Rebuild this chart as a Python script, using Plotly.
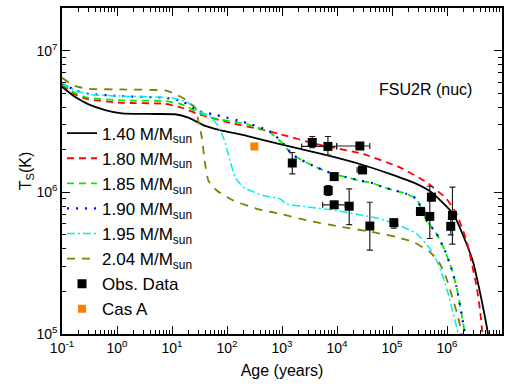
import numpy as np
import plotly.graph_objects as go

# ---- cooling curves (log10 age [yr], log10 T_s [K]) ----
lage_140 = [-1.0, -0.759, -0.517, -0.214, 0.089, 0.694, 1.057, 1.298, 1.602, 1.874, 2.359, 2.963,
            3.811, 4.416, 4.960, 5.445, 5.717, 6.110, 6.353, 6.48, 6.58, 6.66, 6.745, 6.76]
lT_140 = [6.745, 6.672, 6.621, 6.581, 6.557, 6.553, 6.551, 6.527, 6.469, 6.439, 6.399, 6.340,
          6.263, 6.200, 6.130, 6.060, 6.001, 5.849, 5.639, 5.50, 5.33, 5.18, 5.0, 4.9]

lage_180 = [-1.0, -0.759, -0.517, 0.089, 0.875, 1.179, 1.480, 2.115, 2.600, 2.963, 3.630, 4.476,
            5.142, 5.627, 5.990, 6.172, 6.353, 6.45, 6.54, 6.60, 6.645, 6.66]
lT_180 = [6.757, 6.690, 6.656, 6.632, 6.625, 6.597, 6.551, 6.485, 6.446, 6.411, 6.340, 6.270,
          6.176, 6.071, 5.954, 5.849, 5.662, 5.50, 5.33, 5.17, 5.0, 4.9]

lage_185 = [-1.0, -0.759, -0.517, 0.089, 0.875, 1.179, 1.480, 1.752, 2.359, 2.782, 3.023, 3.175,
            3.357, 3.630, 3.932, 4.174, 4.416, 4.658, 4.839, 5.264, 5.445, 5.627, 5.808, 5.959,
            6.081, 6.172, 6.262, 6.322, 6.34]
lT_185 = [6.766, 6.700, 6.667, 6.649, 6.644, 6.621, 6.562, 6.523, 6.481, 6.422, 6.340, 6.270,
          6.228, 6.176, 6.130, 6.106, 6.083, 6.064, 6.036, 5.989, 5.954, 5.802, 5.709, 5.592,
          5.462, 5.335, 5.147, 5.007, 4.9]

lage_190 = [-1.0, -0.759, -0.517, 0.089, 0.875, 1.179, 1.480, 1.752, 2.359, 2.782, 3.023, 3.175,
            3.357, 3.630, 3.932, 4.174, 4.416, 4.658, 4.839, 5.264, 5.445, 5.627, 5.808, 5.959,
            6.081, 6.172, 6.262, 6.322, 6.34]
lT_190 = [6.773, 6.720, 6.695, 6.679, 6.667, 6.644, 6.574, 6.551, 6.490, 6.430, 6.345, 6.270,
          6.228, 6.176, 6.130, 6.106, 6.083, 6.064, 6.036, 5.989, 5.954, 5.802, 5.709, 5.592,
          5.462, 5.335, 5.147, 5.007, 4.9]

lage_195 = [-1.0, -0.759, -0.517, 0.089, 0.997, 1.298, 1.480, 1.692, 1.814, 1.934, 2.056, 2.146,
            2.297, 2.660, 2.963, 3.085, 3.508, 3.993, 4.476, 4.779, 5.202, 5.445, 5.687, 5.837,
            5.928, 6.019, 6.110, 6.200, 6.22]
lT_195 = [6.773, 6.720, 6.691, 6.679, 6.667, 6.632, 6.574, 6.539, 6.481, 6.387, 6.223, 6.106,
          6.036, 5.978, 5.954, 5.919, 5.895, 5.872, 5.837, 5.814, 5.755, 5.709, 5.604, 5.498,
          5.400, 5.288, 5.147, 5.007, 4.9]

lage_204 = [-1.0, -0.759, -0.517, 0.089, 0.875, 1.057, 1.239, 1.420, 1.480, 1.542, 1.602, 1.662,
            1.814, 2.115, 2.540, 2.963, 3.508, 3.993, 4.537, 4.779, 5.082, 5.383, 5.687, 5.868,
            5.990, 6.110, 6.200, 6.262, 6.28]
lT_204 = [6.808, 6.749, 6.731, 6.726, 6.719, 6.695, 6.656, 6.597, 6.504, 6.387, 6.200, 6.083,
          6.013, 5.942, 5.884, 5.849, 5.797, 5.762, 5.727, 5.709, 5.685, 5.650, 5.580, 5.498,
          5.392, 5.241, 5.124, 5.007, 4.9]

# ---- observations (log10) ----
obs_lage = [3.55, 3.835, 4.416, 3.187, 4.465, 3.949, 3.840, 3.949, 4.222, 4.597, 5.033, 5.518,
            5.687, 5.717, 6.099, 6.068]
obs_lage_lo = [3.55, 3.357, 3.993, 3.187, 4.366, 3.949, 3.840, 3.739, 4.222, 4.597, 5.033, 5.445,
               5.687, 5.717, 6.099, 6.068]
obs_lage_hi = [3.55, 3.993, 4.597, 3.187, 4.465, 3.949, 3.840, 4.150, 4.222, 4.597, 5.033, 5.596,
               5.687, 5.717, 6.099, 6.068]
obs_lT = [6.352, 6.324, 6.327, 6.207, 6.158, 6.111, 6.013, 5.912, 5.902, 5.762, 5.786, 5.865,
          5.830, 5.966, 5.837, 5.760]
obs_lT_hi = [6.394, 6.394, 6.327, 6.281, 6.158, 6.125, 6.048, 5.912, 6.025, 5.930, 5.807, 5.884,
             6.043, 5.987, 6.036, 5.810]
obs_lT_lo = [6.316, 6.263, 6.327, 6.130, 6.158, 6.097, 5.978, 5.912, 5.772, 5.592, 5.748, 5.837,
             5.674, 5.939, 5.634, 5.700]

casA_lage = [2.497]
casA_lT = [6.324]
casA_lT_hi = [6.340]
casA_lT_lo = [6.308]

x_tick_exp = [-1, 0, 1, 2, 3, 4, 5, 6, 7]
y_tick_exp = [5, 6, 7]

p = lambda a: 10 ** np.asarray(a, dtype=float)

FONT = "Liberation Sans, Arial, sans-serif"
fig = go.Figure()

curves = [
    ("1.40", lage_140, lT_140, "black", "solid", 1.8),
    ("1.80", lage_180, lT_180, "#ff0000", "7px,5px", 1.8),
    ("1.85", lage_185, lT_185, "#00ee00", "7px,5px", 1.8),
    ("1.90", lage_190, lT_190, "#0000ff", "2px,7px", 2.2),
    ("1.95", lage_195, lT_195, "#00eeee", "8px,3px,2px,3px", 1.5),
    ("2.04", lage_204, lT_204, "#808000", "8px,7px", 1.8),
]
for name, lx, ly, col, dash, w in curves:
    fig.add_trace(go.Scatter(
        x=p(lx), y=p(ly), mode="lines",
        line=dict(color=col, dash=dash, width=w, shape="spline", smoothing=0.5),
        name=f"{name} M/M<sub>sun</sub>"))

ox, oy = p(obs_lage), p(obs_lT)
fig.add_trace(go.Scatter(
    x=ox, y=oy, mode="markers", name="Obs. Data",
    marker=dict(symbol="square", size=9, color="black"),
    error_y=dict(type="data", symmetric=False, array=p(obs_lT_hi) - oy,
                 arrayminus=oy - p(obs_lT_lo), color="#222", thickness=1.2, width=3),
    error_x=dict(type="data", symmetric=False, array=p(obs_lage_hi) - ox,
                 arrayminus=ox - p(obs_lage_lo), color="#222", thickness=1.2, width=3),
))
cx, cy = p(casA_lage), p(casA_lT)
fig.add_trace(go.Scatter(
    x=cx, y=cy, mode="markers", name="Cas A",
    marker=dict(symbol="square", size=8, color="#ff8000"),
    error_y=dict(type="data", symmetric=False, array=p(casA_lT_hi) - cy,
                 arrayminus=cy - p(casA_lT_lo), color="#ff8000", thickness=6, width=0),
))

def minor_vals(lo, hi):
    out = []
    for e in range(lo, hi):
        for m in range(2, 10):
            out.append(m * 10.0 ** e)
    return out

axis_common = dict(
    type="log", showgrid=False, zeroline=False, showline=True, linecolor="black",
    linewidth=1.5, mirror="ticks", ticks="inside", ticklen=8, tickwidth=1.2,
    tickcolor="black", tickfont=dict(family=FONT, size=14, color="black"),
)
fig.update_xaxes(
    **axis_common, range=[-1, 7],
    tickvals=[10.0 ** e for e in x_tick_exp],
    ticktext=[f"10<sup>{e}</sup>" for e in x_tick_exp],
    minor=dict(ticks="inside", ticklen=4, tickwidth=1, tickcolor="black",
               tickvals=minor_vals(-1, 7), showgrid=False),
    title=dict(text="Age (years)", font=dict(family=FONT, size=16, color="black"), standoff=10),
)
fig.update_yaxes(
    **axis_common, range=[5, np.log10(2e7)],
    tickvals=[10.0 ** e for e in y_tick_exp],
    ticktext=[f"10<sup>{e}</sup>" for e in y_tick_exp],
    minor=dict(ticks="inside", ticklen=4, tickwidth=1, tickcolor="black",
               tickvals=minor_vals(5, 8), showgrid=False),
    title=dict(text="T<sub>S</sub>(K)", font=dict(family=FONT, size=16, color="black"), standoff=0),
)

fig.add_annotation(text="FSU2R (nuc)", xref="paper", yref="paper", x=0.826, y=0.75,
                   xanchor="center", yanchor="middle",
                   showarrow=False, font=dict(family=FONT, size=16, color="black"))

fig.update_layout(
    width=511, height=384, margin=dict(l=62, r=9, t=6, b=50),
    paper_bgcolor="white", plot_bgcolor="white",
    font=dict(family=FONT, color="black"),
    showlegend=True,
    legend=dict(x=0.0, y=0.67, xanchor="left", yanchor="top", bgcolor="rgba(0,0,0,0)",
                borderwidth=0, font=dict(family=FONT, size=17, color="black"),
                tracegroupgap=0, itemwidth=30),
)

fig.write_html("out.html", config={"displayModeBar": False},
               post_script="document.body.style.margin='0';document.body.style.overflow='hidden';")
